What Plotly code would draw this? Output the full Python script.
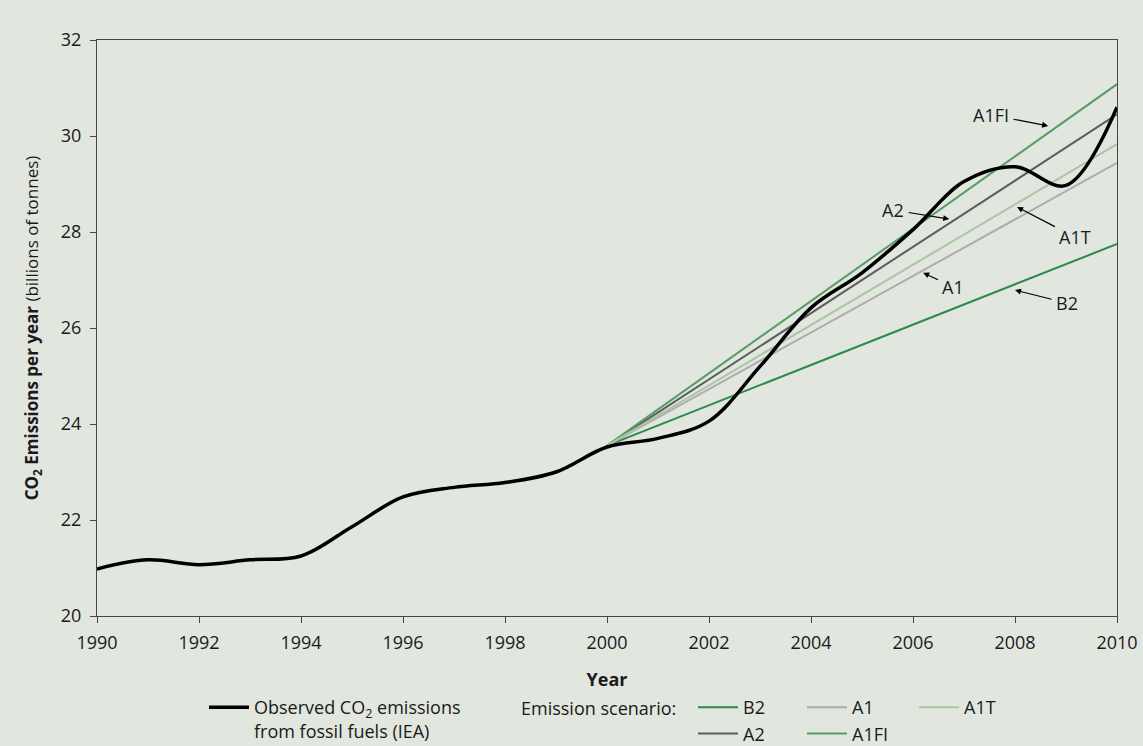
import plotly.graph_objects as go

# ---------------- data ----------------
obs_years = [1990, 1991, 1992, 1993, 1994, 1995, 1996, 1997, 1998, 1999, 2000,
             2001, 2002, 2003, 2004, 2005, 2006, 2007, 2008, 2009, 2010]
obs_values = [20.98, 21.17, 21.07, 21.17, 21.25, 21.86, 22.48, 22.68, 22.78, 23.0, 23.52,
              23.7, 24.06, 25.2, 26.42, 27.15, 28.05, 29.05, 29.36, 28.97, 30.6]

scen_years = [2000, 2010]
scen_B2 = [23.55, 27.75]
scen_A1 = [23.55, 29.44]
scen_A1T = [23.55, 29.83]
scen_A2 = [23.55, 30.45]
scen_A1FI = [23.55, 31.08]

x_ticks = list(range(1990, 2011, 2))
y_ticks = list(range(20, 33, 2))

# arrow-label annotations: label, head year, head value, text offset (px)
ann_labels = ["A1FI", "A2", "A1T", "A1", "B2"]
ann_head_x = [2008.65, 2006.71, 2008.04, 2006.2, 2008.0]
ann_head_y = [30.21, 28.27, 28.52, 27.15, 26.79]
ann_ax = [-57, -56, 58, 30, 52]
ann_ay = [-11, -9, 30, 14, 13]

BG = "#E1E6DF"
FONT = "Open Sans"
TXT = "#1a1a1a"

W, H = 1143, 746
# plot-area geometry in pixels
L, R, T, B = 97, 1117, 40, 616
PW, PH = R - L, B - T

fig = go.Figure()

scen = [
    ("B2", scen_B2, "#2A8A48", "legend2"),
    ("A2", scen_A2, "#5C5C5C", "legend2"),
    ("A1", scen_A1, "#ADADAD", "legend3"),
    ("A1FI", scen_A1FI, "#5A9B64", "legend3"),
    ("A1T", scen_A1T, "#A9C6A3", "legend4"),
]
for name, vals, col, lg in scen:
    fig.add_trace(go.Scatter(x=scen_years, y=vals, mode="lines", name=name,
                             line=dict(color=col, width=2), legend=lg,
                             hoverinfo="skip"))

fig.add_trace(go.Scatter(x=obs_years, y=obs_values, mode="lines",
                         name="Observed CO<sub>2</sub> emissions<br>from fossil fuels (IEA)",
                         line=dict(color="black", width=3.5, shape="spline", smoothing=1.0),
                         legend="legend", hoverinfo="skip"))

for lab, hx, hy, ax, ay in zip(ann_labels, ann_head_x, ann_head_y, ann_ax, ann_ay):
    fig.add_annotation(x=hx, y=hy, xref="x", yref="y", text=lab, showarrow=True,
                       ax=ax, ay=ay, arrowhead=2, arrowsize=1, arrowwidth=1.2,
                       arrowcolor="black", standoff=0, startstandoff=3,
                       font=dict(family=FONT, size=18, color=TXT))

fig.add_annotation(x=(519 - L) / PW, y=(B - 708) / PH, xref="paper", yref="paper",
                   xanchor="left", yanchor="middle", text="Emission scenario:",
                   showarrow=False, font=dict(family=FONT, size=18, color=TXT))

legend_common = dict(orientation="v", bgcolor="rgba(0,0,0,0)", borderwidth=0,
                     font=dict(family=FONT, size=18, color=TXT), yanchor="top",
                     tracegroupgap=0, itemclick=False, itemdoubleclick=False,
                     xanchor="left", valign="top", itemwidth=40)
ly = (B - 689) / PH

fig.update_layout(
    width=W, height=H,
    margin=dict(l=L, r=W - R, t=T, b=H - B, autoexpand=False),
    paper_bgcolor=BG, plot_bgcolor=BG,
    font=dict(family=FONT, size=18, color=TXT),
    showlegend=True,
    legend=dict(**legend_common, x=(204 - L) / PW, y=ly),
    legend2=dict(**legend_common, x=(693 - L) / PW, y=ly),
    legend3=dict(**legend_common, x=(802 - L) / PW, y=ly),
    legend4=dict(**legend_common, x=(914 - L) / PW, y=ly),
    xaxis=dict(range=[1990, 2010], tickvals=x_ticks, ticks="outside", ticklen=6,
               tickcolor="#444", showline=True, linecolor="#444", linewidth=1.2,
               mirror=True, showgrid=False, zeroline=False, ticklabelstandoff=4,
               tickfont=dict(family=FONT, size=18, color=TXT),
               title=dict(text="<b>Year</b>", standoff=20,
                          font=dict(family=FONT, size=18, color=TXT))),
    yaxis=dict(range=[20, 32], tickvals=y_ticks, ticks="outside", ticklen=6,
               tickcolor="#444", showline=True, linecolor="#444", linewidth=1.2,
               mirror=True, showgrid=False, zeroline=False, ticklabelstandoff=5,
               tickfont=dict(family=FONT, size=18, color=TXT),
               title=dict(text="<b>CO<sub>2</sub> Emissions per year</b> (billions of tonnes)",
                          standoff=17, font=dict(family=FONT, size=17, color=TXT))),
)

# remove the default page margin so the figure fills the window exactly
fig.write_html("out.html", config={"displayModeBar": False},
               post_script="document.body.style.margin='0';document.body.style.overflow='hidden';")
